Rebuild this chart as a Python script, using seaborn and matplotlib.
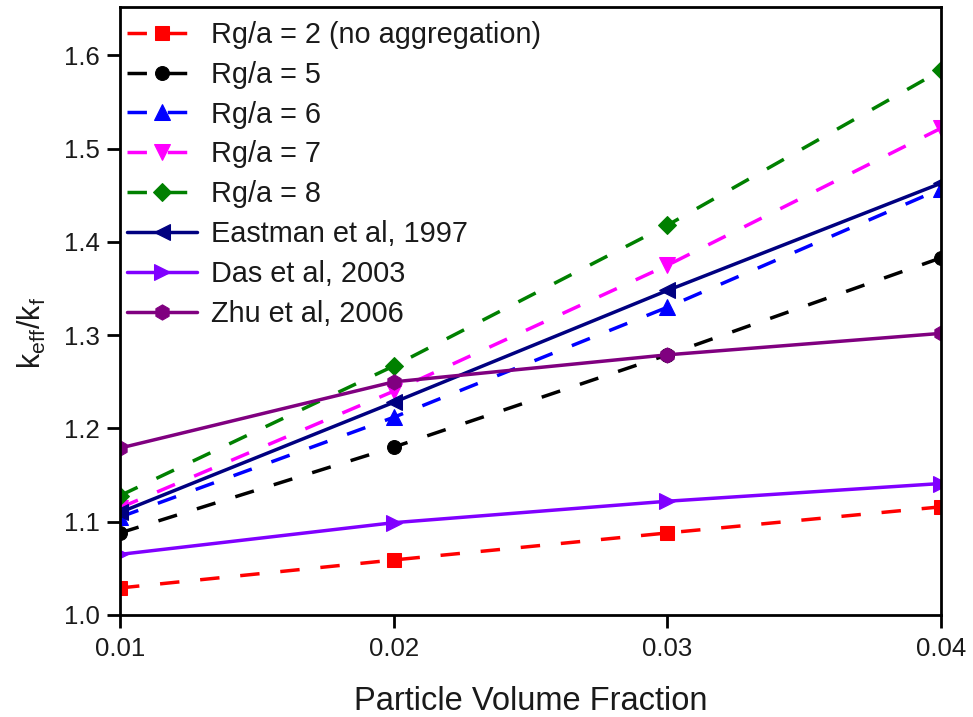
import matplotlib
matplotlib.use("Agg")
import matplotlib.pyplot as plt
import seaborn as sns
import pandas as pd

x_vals = [0.01, 0.02, 0.03, 0.04]
labels = ["Rg/a = 2 (no aggregation)", "Rg/a = 5", "Rg/a = 6", "Rg/a = 7",
          "Rg/a = 8", "Eastman et al, 1997", "Das et al, 2003", "Zhu et al, 2006"]
rg2 = [1.029, 1.059, 1.088, 1.116]
rg5 = [1.088, 1.180, 1.279, 1.383]
rg6 = [1.105, 1.212, 1.330, 1.457]
rg7 = [1.115, 1.240, 1.375, 1.522]
rg8 = [1.128, 1.267, 1.418, 1.584]
eastman = [1.110, 1.228, 1.348, 1.463]
das = [1.065, 1.099, 1.122, 1.141]
zhu = [1.179, 1.250, 1.279, 1.302]
series = [rg2, rg5, rg6, rg7, rg8, eastman, das, zhu]

colors = ["#ff0000", "#000000", "#0000ff", "#ff00ff", "#008000", "#000080", "#8000ff", "#800080"]
markers = ["s", "o", "^", "v", "D", "<", ">", "h"]
msizes = [9.5, 10, 11, 11, 9, 11, 11, 11]
dashed = [True, True, True, True, True, False, False, False]

rows = []
for lab, vals in zip(labels, series):
    for xv, yv in zip(x_vals, vals):
        rows.append({"x": xv, "y": yv, "series": lab})
df = pd.DataFrame(rows)

sns.set_style("ticks")
plt.rcParams["font.family"] = ["Liberation Sans", "DejaVu Sans"]
plt.rcParams["mathtext.default"] = "regular"
plt.rcParams["text.color"] = "black"
plt.rcParams["axes.labelcolor"] = "black"
plt.rcParams["xtick.color"] = "black"
plt.rcParams["ytick.color"] = "black"

fig = plt.figure(figsize=(9.73, 7.17), dpi=100)
ax = fig.add_axes([120 / 973, 102 / 717, 821 / 973, 608 / 717])

for lab, c, m, ms, d in zip(labels, colors, markers, msizes, dashed):
    sub = df[df["series"] == lab]
    sns.lineplot(data=sub, x="x", y="y", ax=ax, color=c, marker=m, markersize=ms,
                 markeredgecolor=c, linewidth=2.5, label=lab,
                 linestyle="--" if d else "-")
for ln, d in zip(ax.lines, dashed):
    if d:
        ln.set_dashes((5.6, 6.0))

ax.set_xlim(0.01, 0.04)
ax.set_ylim(1.0, 1.652)
ax.set_xticks(x_vals)
ax.set_xticklabels(["0.01", "0.02", "0.03", "0.04"])
ax.set_yticks([1.0, 1.1, 1.2, 1.3, 1.4, 1.5, 1.6])
ax.set_yticklabels(["1.0", "1.1", "1.2", "1.3", "1.4", "1.5", "1.6"])
ax.tick_params(axis="both", direction="out", labelsize=18.5, width=2, length=9.5,
               color="black", labelcolor="#1a1a1a", pad=5)
ax.tick_params(axis="x", pad=6)
for sp in ax.spines.values():
    sp.set_visible(True)
    sp.set_linewidth(2)
    sp.set_color("black")

ax.set_xlabel("Particle Volume Fraction", fontsize=23.5, labelpad=18, color="#1a1a1a")
ax.set_ylabel(r"k$_{eff}$/k$_{f}$", fontsize=22, color="#1a1a1a")
ax.yaxis.set_label_coords(-0.088, 0.464)

leg = ax.legend(loc="upper left", bbox_to_anchor=(0.0, 0.989), frameon=False,
                fontsize=20.8, handlelength=2.4, labelspacing=0.41,
                borderaxespad=0.0, borderpad=0.25, handletextpad=0.5)
for t in leg.get_texts():
    t.set_color("#1a1a1a")

fig.savefig("out.png", dpi=100)
